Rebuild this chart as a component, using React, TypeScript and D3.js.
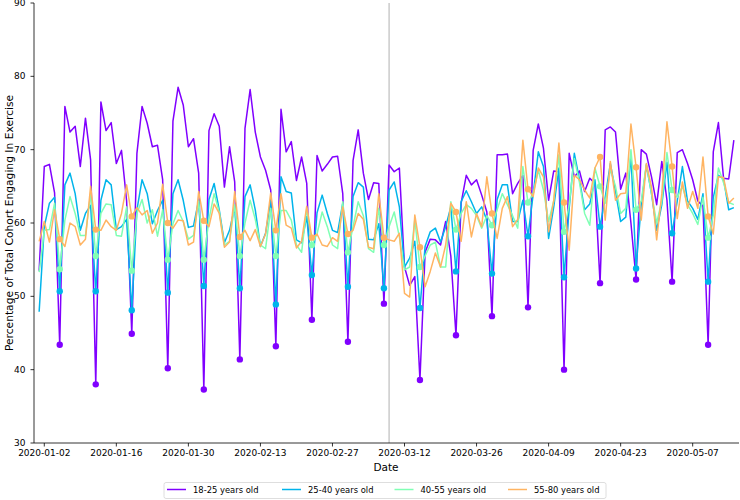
import React from "react";
import * as d3 from "d3";

const START = "2020-01-01";
const END = "2020-05-15";
const SERIES_NAMES = ["18-25 years old", "25-40 years old", "40-55 years old", "55-80 years old"];
const COLORS = ["#8000ff", "#00b4eb", "#80ffb4", "#ffb462"];
const TICK_DATES = ["2020-01-02", "2020-01-16", "2020-01-30", "2020-02-13", "2020-02-27", "2020-03-12", "2020-03-26", "2020-04-09", "2020-04-23", "2020-05-07"];
const Y_TICKS = [30, 40, 50, 60, 70, 80, 90];
const MARK_DATE = "2020-03-09";

const age18_25 = [53.5, 67.7, 68.0, 64.1, 43.4, 75.9, 72.4, 73.2, 67.7, 74.3, 68.6, 38.0, 76.5, 72.6, 73.7, 68.1, 69.9, 63.0, 44.9, 69.5, 75.9, 73.6, 70.4, 70.6, 65.9, 40.2, 73.9, 78.5, 76.1, 70.4, 71.5, 66.8, 37.3, 72.6, 74.9, 73.2, 64.9, 70.4, 65.6, 41.4, 72.9, 78.2, 72.4, 69.0, 67.2, 64.5, 43.2, 75.5, 69.7, 71.1, 65.8, 69.0, 65.4, 46.8, 69.2, 67.1, 68.0, 69.0, 69.1, 64.0, 43.8, 68.5, 72.7, 66.8, 63.2, 65.5, 65.4, 49.0, 67.9, 67.0, 67.5, 54.0, 51.5, 52.7, 38.6, 56.0, 57.8, 57.7, 57.0, 60.2, 55.5, 44.7, 62.7, 66.5, 65.2, 65.9, 63.8, 61.5, 47.3, 69.3, 69.3, 69.4, 64.0, 65.4, 66.5, 48.5, 69.9, 73.5, 70.2, 63.1, 67.1, 67.0, 40.0, 69.5, 66.3, 67.1, 64.3, 66.1, 65.4, 51.8, 72.7, 73.1, 72.4, 64.6, 66.8, 60.0, 52.3, 70.0, 69.4, 66.3, 62.5, 68.4, 63.1, 52.0, 69.6, 70.0, 68.1, 65.9, 63.0, 62.3, 43.4, 69.7, 73.7, 66.1, 66.0, 71.3];
const age25_40 = [47.9, 59.5, 62.7, 63.5, 50.7, 65.2, 66.8, 64.0, 59.0, 61.3, 62.4, 50.7, 63.1, 65.9, 65.2, 59.1, 59.5, 60.5, 48.1, 61.8, 65.9, 64.0, 59.9, 61.7, 63.1, 50.5, 64.0, 65.9, 63.1, 59.4, 59.6, 63.1, 51.4, 63.2, 65.4, 61.8, 57.3, 59.0, 62.2, 51.1, 63.6, 65.2, 61.8, 56.8, 58.6, 63.1, 48.9, 66.3, 64.3, 64.1, 57.7, 57.3, 60.9, 52.9, 61.4, 63.8, 61.3, 59.0, 58.7, 62.7, 51.3, 63.6, 65.5, 64.9, 57.8, 57.7, 59.9, 51.1, 64.5, 65.6, 62.2, 54.0, 55.2, 57.5, 48.4, 56.8, 58.8, 59.3, 57.4, 59.5, 62.2, 53.4, 62.9, 64.4, 62.9, 61.3, 62.2, 60.4, 53.1, 63.2, 65.2, 65.2, 60.2, 60.2, 63.1, 58.2, 63.9, 69.7, 67.7, 57.9, 62.2, 67.5, 52.6, 62.0, 69.5, 65.9, 61.8, 62.6, 65.9, 59.5, 63.5, 68.1, 64.3, 60.2, 60.8, 69.3, 53.8, 62.5, 67.9, 64.0, 59.0, 62.5, 68.3, 58.6, 63.0, 67.7, 63.0, 62.0, 60.5, 64.0, 52.0, 63.5, 66.5, 66.0, 61.8, 62.1];
const age40_55 = [53.3, 59.0, 59.1, 62.7, 53.7, 60.4, 63.6, 61.3, 58.3, 58.3, 64.0, 55.5, 61.3, 62.6, 62.5, 58.3, 58.2, 62.2, 53.5, 61.3, 63.2, 60.0, 61.8, 58.2, 61.8, 55.0, 59.9, 61.7, 60.2, 57.8, 58.3, 63.0, 55.0, 60.5, 64.0, 61.5, 57.0, 57.5, 62.5, 55.5, 60.0, 63.1, 60.5, 57.0, 56.5, 62.0, 55.5, 61.7, 61.7, 60.4, 57.0, 56.0, 62.0, 57.0, 58.5, 61.5, 59.5, 57.0, 56.5, 62.9, 56.0, 59.5, 62.9, 61.0, 56.5, 56.0, 62.0, 57.0, 59.5, 61.5, 58.1, 53.6, 54.0, 60.5, 54.0, 55.5, 57.0, 57.4, 54.0, 54.0, 62.9, 59.1, 61.3, 62.5, 62.0, 61.0, 59.3, 61.0, 59.7, 61.8, 64.0, 62.5, 61.0, 59.3, 67.7, 62.8, 64.0, 67.2, 64.5, 60.2, 63.0, 69.3, 58.8, 62.5, 68.8, 65.5, 61.3, 59.7, 67.5, 65.0, 62.7, 67.3, 65.0, 61.3, 62.0, 70.0, 61.8, 63.0, 68.0, 64.0, 60.0, 63.0, 69.6, 64.5, 63.5, 65.0, 62.5, 61.3, 59.8, 63.5, 58.0, 61.0, 67.5, 65.5, 62.8, 62.5];
const age55_80 = [57.5, 60.2, 57.4, 61.8, 57.8, 56.8, 60.0, 59.5, 57.0, 57.8, 65.0, 59.1, 59.0, 60.4, 59.5, 59.0, 61.3, 65.2, 60.9, 62.1, 61.1, 61.7, 58.6, 60.0, 65.3, 60.0, 59.3, 60.4, 60.3, 57.0, 57.4, 64.3, 60.3, 59.5, 62.6, 61.3, 56.7, 57.4, 64.3, 58.1, 59.0, 57.6, 59.1, 56.8, 58.5, 64.1, 59.0, 64.0, 59.7, 59.3, 56.6, 57.5, 62.3, 58.0, 58.5, 57.0, 56.8, 58.0, 57.5, 62.2, 58.5, 59.0, 61.3, 60.5, 56.7, 56.5, 64.0, 58.0, 57.7, 57.5, 58.6, 50.4, 49.9, 61.1, 56.7, 51.3, 53.4, 55.9, 54.0, 57.0, 62.7, 61.5, 57.5, 62.9, 58.1, 61.3, 59.5, 66.3, 61.3, 57.9, 62.0, 63.6, 59.5, 60.5, 71.3, 64.6, 63.6, 67.5, 66.3, 58.8, 63.1, 70.9, 62.8, 56.3, 66.5, 65.9, 64.5, 63.4, 67.5, 69.0, 60.4, 68.4, 63.1, 64.0, 64.1, 73.5, 67.6, 60.4, 68.1, 64.9, 57.7, 64.0, 73.8, 67.7, 60.6, 65.6, 62.0, 64.3, 62.0, 69.0, 60.9, 58.5, 66.3, 66.2, 62.7, 63.4];

const SERIES = [age18_25, age25_40, age40_55, age55_80];

const W = 740, H = 500;
const FONT = "DejaVu Sans, sans-serif";

export default function App() {
  const parse = d3.utcParse("%Y-%m-%d");
  const start = parse(START)!;
  const end = parse(END)!;
  const dates = d3.utcDay.range(start, d3.utcDay.offset(end, 1));

  const x = d3.scaleUtc()
    .domain([d3.utcDay.offset(start, -1), d3.utcDay.offset(end, 1)])
    .range([34, 739]);
  const y = d3.scaleLinear().domain([30, 90]).range([443, 3]);

  const line = d3.line<number>()
    .x((_, i) => x(dates[i]))
    .y((v) => y(v));

  const markIdx = dates.map((d, i) => (d.getUTCDay() === 0 ? i : -1)).filter((i) => i >= 0);
  const fmt = d3.utcFormat("%Y-%m-%d");
  const vx = x(parse(MARK_DATE)!);

  const legendX = [167, 282, 394.5, 508];

  return (
    <svg width={W} height={H} style={{ position: "absolute", left: 0, top: 0, background: "#fff" }} fontFamily={FONT}>
      <rect x={0} y={0} width={W} height={H} fill="#fff" />
      <line x1={vx} x2={vx} y1={3} y2={443} stroke="#b0b0b0" strokeWidth={1} />
      {SERIES.map((s, si) => (
        <g key={si}>
          <path d={line(s) || ""} fill="none" stroke={COLORS[si]} strokeWidth={1.5} strokeLinejoin="round" />
          {markIdx.map((i) => (
            <circle key={i} cx={x(dates[i])} cy={y(s[i])} r={3.2} fill={COLORS[si]} />
          ))}
        </g>
      ))}
      {/* axes */}
      <line x1={34} x2={34} y1={3} y2={443} stroke="#000" strokeWidth={0.8} />
      <line x1={34} x2={739} y1={443} y2={443} stroke="#000" strokeWidth={0.8} />
      {Y_TICKS.map((t) => (
        <g key={t} transform={`translate(34,${y(t)})`}>
          <line x1={-3.5} x2={0} stroke="#000" strokeWidth={0.8} />
          <text x={-8.5} dy="0.35em" textAnchor="end" fontSize={9} fill="#000">{t}</text>
        </g>
      ))}
      {TICK_DATES.map((t) => {
        const px = x(parse(t)!);
        return (
          <g key={t} transform={`translate(${px},443)`}>
            <line y1={0} y2={3.5} stroke="#000" strokeWidth={0.8} />
            <text y={12.7} textAnchor="middle" fontSize={9} fill="#000">{fmt(parse(t)!)}</text>
          </g>
        );
      })}
      <text x={386} y={470.5} textAnchor="middle" fontSize={10.5} fill="#000">Date</text>
      <text transform={`translate(13,223) rotate(-90)`} textAnchor="middle" fontSize={10.7} fill="#000">Percentage of Total Cohort Engaging In Exercise</text>
      {/* legend */}
      <rect x={164} y={482.5} width={442} height={16} rx={2} fill="#fff" stroke="#d6d6d6" strokeWidth={0.8} />
      {SERIES_NAMES.map((n, i) => (
        <g key={n}>
          <line x1={legendX[i]} x2={legendX[i] + 19} y1={489.5} y2={489.5} stroke={COLORS[i]} strokeWidth={1.5} />
          <text x={legendX[i] + 26} y={492.8} fontSize={8.4} fill="#000">{n}</text>
        </g>
      ))}
    </svg>
  );
}
